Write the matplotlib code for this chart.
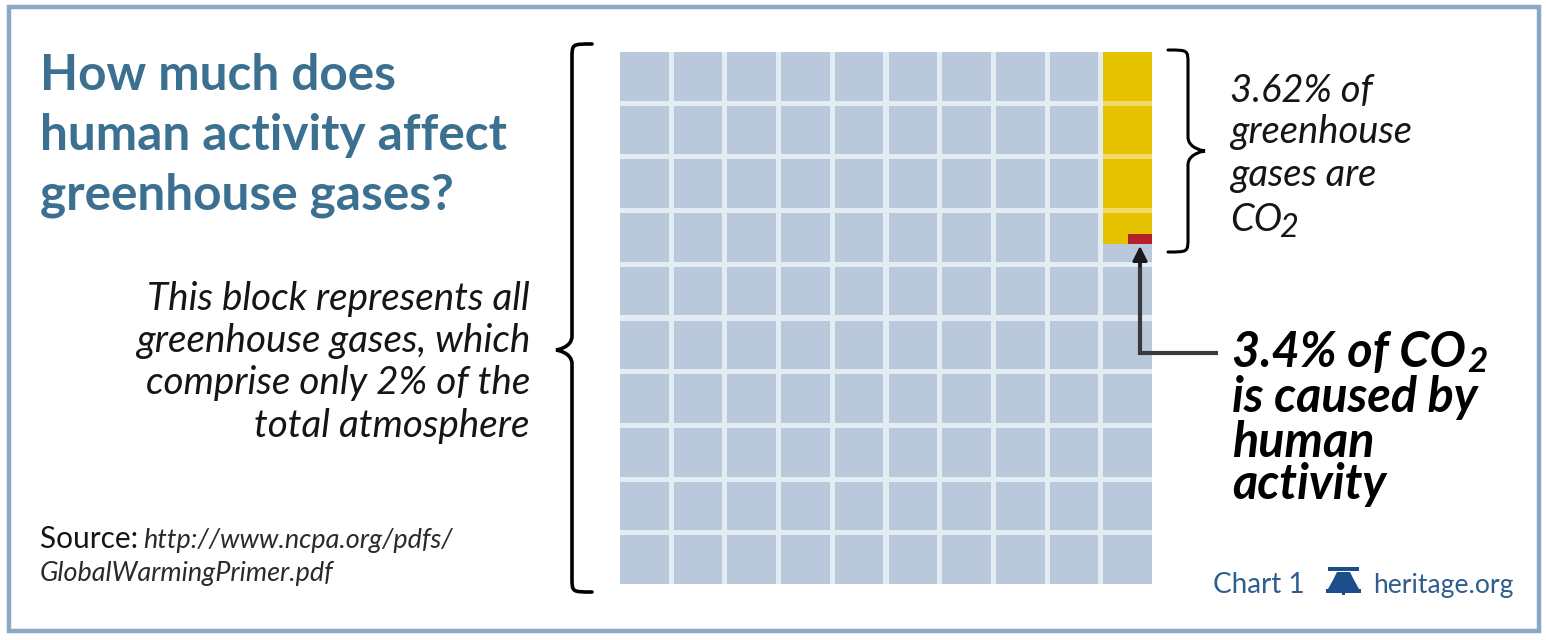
import matplotlib
matplotlib.use("Agg")
import matplotlib.pyplot as plt
from matplotlib.patches import Rectangle, Polygon, PathPatch
from matplotlib.path import Path

# ---------------- data ----------------
n_rows = 10
n_cols = 10
co2_share_pct = 3.62          # % of greenhouse gases that are CO2
human_share_pct = 3.4         # % of CO2 caused by human activity
title_lines = ["How much does", "human activity affect", "greenhouse gases?"]
left_lines = ["This block represents all", "greenhouse gases, which",
              "comprise only 2% of the", "total atmosphere"]
co2_lines = ["3.62% of", "greenhouse", "gases are", "CO"]
human_lines = ["3.4% of CO", "is caused by", "human", "activity"]
source_label = "Source: "
source_url = ["http://www.ncpa.org/pdfs/", "GlobalWarmingPrimer.pdf"]
footer_chart = "Chart 1"
footer_site = "heritage.org"

# ---------------- style ----------------
W, H = 1546, 640
FONT = "Lato"
cell_color = "#b9c9db"
gap_color = "#e3ebf3"
yellow = "#e6c300"
pale_yellow = "#f2da6a"
red = "#b5202a"
title_color = "#3c7091"
text_color = "#151515"
footer_color = "#2e5d8e"
frame_color = "#8aa7c4"

fig = plt.figure(figsize=(W / 100, H / 100), dpi=100)
fig.patch.set_facecolor("white")

# ---------------- waffle grid ----------------
gx0, gy0, gx1, gy1 = 620, 52, 1152, 584
axw = fig.add_axes([gx0 / W, 1 - gy1 / H, (gx1 - gx0) / W, (gy1 - gy0) / H])
axw.set_zorder(1)
g = 0.095
axw.set_xlim(g / 2, n_cols - g / 2)
axw.set_ylim(n_rows - g / 2, g / 2)
axw.set_facecolor(gap_color)
for s in axw.spines.values():
    s.set_visible(False)
axw.set_xticks([])
axw.set_yticks([])
for r in range(n_rows):
    for c in range(n_cols):
        axw.add_patch(Rectangle((c + g / 2, r + g / 2), 1 - g, 1 - g,
                                fc=cell_color, ec="none"))

# CO2 part: 3.62 of 100 cells, stacked in the last column
co2_cells = co2_share_pct / 100 * n_rows * n_cols
col = n_cols - 1
axw.add_patch(Rectangle((col + g / 2, g / 2), 1 - g, co2_cells - g / 2,
                        fc=yellow, ec="none"))
for r in range(1, int(co2_cells) + 1):
    if r < co2_cells:
        axw.add_patch(Rectangle((col + g / 2, r - g / 2), 1 - g, g,
                                fc=pale_yellow, ec="none"))
# human part of CO2
red_w = 0.45
red_h = 0.19
axw.add_patch(Rectangle((n_cols - g / 2 - red_w, co2_cells - red_h), red_w, red_h,
                        fc=red, ec="none"))

# ---------------- overlay axes (pixel coords) ----------------
ax0 = fig.add_axes([0, 0, 1, 1])
ax0.set_zorder(2)
ax0.set_xlim(0, W)
ax0.set_ylim(H, 0)
ax0.axis("off")
renderer = fig.canvas.get_renderer()

# frame
ax0.add_patch(Rectangle((9, 7), 1530, 624, fill=False, ec=frame_color, lw=3.2))

# ---------------- helpers ----------------
def fit_size(s, target, **kw):
    t = ax0.text(0, 0, s, fontsize=20, **kw)
    w = t.get_window_extent(renderer).width
    t.remove()
    return 20 * target / w


def text_width(t):
    return t.get_window_extent(renderer).width

# ---------------- title ----------------
fs = fit_size(title_lines[1], 467, family=FONT, weight="bold")
for line, yb in zip(title_lines, [90, 150, 209]):
    ax0.text(40, yb, line, fontsize=fs, family=FONT, weight="bold",
             color=title_color, va="baseline", ha="left")

# ---------------- left italic text ----------------
fs = fit_size(left_lines[0], 382, family=FONT, style="italic")
for line, yb in zip(left_lines, [310, 352, 394, 437]):
    ax0.text(530, yb, line, fontsize=fs, family=FONT, style="italic",
             color=text_color, va="baseline", ha="right")

# ---------------- source ----------------
fs_s = fit_size(source_label.strip(), 98, family=FONT)
ax0.text(40, 548, source_label, fontsize=fs_s, family=FONT,
         color=text_color, va="baseline")
fs_u = fit_size(source_url[0], 310, family=FONT, style="italic")
ax0.text(143, 548, source_url[0], fontsize=fs_u, family=FONT, style="italic",
         color="#2a2a2a", va="baseline")
ax0.text(40, 581, source_url[1], fontsize=fs_u, family=FONT, style="italic",
         color="#2a2a2a", va="baseline")

# ---------------- right texts ----------------
fs = fit_size(co2_lines[1], 182, family=FONT, style="italic")
for line, yb in zip(co2_lines, [102, 143, 186, 231]):
    t = ax0.text(1230, yb, line, fontsize=fs, family=FONT, style="italic",
                 color=text_color, va="baseline")
ax0.text(1230 + text_width(t) - 3, yb + 6, "2", fontsize=fs * 0.85, family=FONT,
         style="italic", color=text_color, va="baseline")

fs = fit_size(human_lines[1], 246, family=FONT, style="italic", weight="bold")
for line, yb in zip(human_lines, [367, 412, 457, 499]):
    t = ax0.text(1232, yb, line, fontsize=fs, family=FONT, style="italic",
                 weight="bold", color="black", va="baseline")
    if line.endswith("CO"):
        ax0.text(1232 + text_width(t) + 1, yb + 5, "2", fontsize=fs * 0.72,
                 family=FONT, style="italic", weight="bold", color="black",
                 va="baseline")

# ---------------- arrow ----------------
ax0.plot([1218, 1140, 1140], [353, 353, 262], color="#3a3a3a", lw=3,
         solid_joinstyle="miter", solid_capstyle="butt")
ax0.annotate("", xy=(1140, 246), xytext=(1140, 266),
             arrowprops=dict(arrowstyle="-|>,head_length=0.9,head_width=0.45",
                             color="#1a1a1a", lw=2, shrinkA=0, shrinkB=0))

# ---------------- braces ----------------
def brace(x_end, x_mid, x_tip, y_top, y_tip, y_bot, lw):
    verts = [
        (x_end, y_top),
        (x_mid, y_top), (x_mid, y_top), (x_mid, y_top + 14),
        (x_mid, y_tip - 14),
        (x_mid, y_tip - 2), (x_tip, y_tip), (x_tip, y_tip),
        (x_tip, y_tip), (x_mid, y_tip + 2), (x_mid, y_tip + 14),
        (x_mid, y_bot - 14),
        (x_mid, y_bot), (x_mid, y_bot), (x_end, y_bot),
    ]
    codes = [Path.MOVETO,
             Path.CURVE4, Path.CURVE4, Path.CURVE4,
             Path.LINETO,
             Path.CURVE4, Path.CURVE4, Path.CURVE4,
             Path.CURVE4, Path.CURVE4, Path.CURVE4,
             Path.LINETO,
             Path.CURVE4, Path.CURVE4, Path.CURVE4]
    ax0.add_patch(PathPatch(Path(verts, codes), fill=False, ec="black", lw=lw,
                            capstyle="round"))

brace(592, 572, 556, 44, 350, 592, 2.6)
brace(1168, 1188, 1205, 50, 151, 252, 2.2)

# ---------------- footer ----------------
fs = fit_size(footer_chart, 92, family=FONT)
ax0.text(1213, 593, footer_chart, fontsize=fs, family=FONT, color=footer_color,
         va="baseline")
fs = fit_size(footer_site, 140, family=FONT)
ax0.text(1373, 593, footer_site, fontsize=fs, family=FONT, color=footer_color,
         va="baseline")
# bell logo
bell_c = "#1d4e8c"
ax0.add_patch(Rectangle((1328, 567), 31, 4, fc=bell_c, ec="none"))
ax0.add_patch(Polygon([(1337, 572), (1350, 572), (1354, 580), (1359, 589),
                       (1328, 589), (1333, 580)], closed=True, fc=bell_c, ec="none"))
ax0.add_patch(Rectangle((1326, 589), 35, 4, fc=bell_c, ec="none"))
ax0.add_patch(Rectangle((1342, 589), 3, 6, fc=bell_c, ec="none"))

fig.savefig("out.png", dpi=100, facecolor="white")
